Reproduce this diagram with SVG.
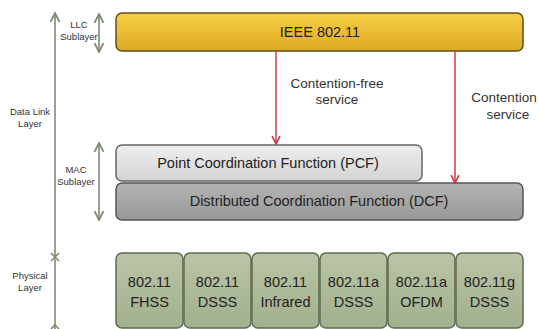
<svg xmlns="http://www.w3.org/2000/svg" width="539" height="329" viewBox="0 0 539 329">
  <style>
    text { font-family: "Liberation Sans", Arial, sans-serif; fill: #222; text-anchor: middle; }
    .side { font-size: 9.5px; fill: #333; }
    .lbl { font-size: 13.5px; fill: #333; }
    .box { font-size: 14.5px; }
    .scale { stroke: #7d8a72; stroke-width: 1.6; fill: none; }
    .conn { stroke: #c8323c; stroke-width: 1.4; fill: none; }
    .phy { fill: url(#gGreen); stroke: #5f6b52; stroke-width: 1.5; }
  </style>
  <defs>
    <linearGradient id="gYellow" x1="0" y1="0" x2="0" y2="1">
      <stop offset="0" stop-color="#f6cf45"/>
      <stop offset="1" stop-color="#ddaa22"/>
    </linearGradient>
    <linearGradient id="gLight" x1="0" y1="0" x2="0" y2="1">
      <stop offset="0" stop-color="#eeeeee"/>
      <stop offset="1" stop-color="#d4d4d4"/>
    </linearGradient>
    <linearGradient id="gDark" x1="0" y1="0" x2="0" y2="1">
      <stop offset="0" stop-color="#b4b4b4"/>
      <stop offset="1" stop-color="#989898"/>
    </linearGradient>
    <linearGradient id="gGreen" x1="0" y1="0" x2="0" y2="1">
      <stop offset="0" stop-color="#b9c5a6"/>
      <stop offset="1" stop-color="#a3b08d"/>
    </linearGradient>
    <marker id="arrRed" viewBox="0 0 10 10" refX="9" refY="5" markerWidth="7" markerHeight="7" orient="auto">
      <path d="M1,1 L9,5 L1,9" fill="none" stroke="#c8323c" stroke-width="1.6"/>
    </marker>
    <marker id="arrGray" viewBox="0 0 10 10" refX="9" refY="5" markerWidth="7" markerHeight="7" orient="auto-start-reverse">
      <path d="M1,1 L9,5 L1,9" fill="none" stroke="#7d8a72" stroke-width="1.6"/>
    </marker>
  </defs>

  <!-- layer scale on the left -->
  <g id="scale">
    <line class="scale" x1="55" y1="329" x2="55" y2="13" marker-end="url(#arrGray)"/>
    <path class="scale" d="M51,253 L59,261 M59,253 L51,261"/>
    <path class="scale" d="M51,329 L55,325 L59,329"/>
    <line class="scale" x1="99" y1="14" x2="99" y2="52" marker-start="url(#arrGray)" marker-end="url(#arrGray)"/>
    <line class="scale" x1="99" y1="143" x2="99" y2="220" marker-start="url(#arrGray)" marker-end="url(#arrGray)"/>
    <text class="side" x="30" y="115">Data Link</text>
    <text class="side" x="30" y="127">Layer</text>
    <text class="side" x="30" y="279">Physical</text>
    <text class="side" x="30" y="291">Layer</text>
    <text class="side" x="79" y="28">LLC</text>
    <text class="side" x="79" y="40">Sublayer</text>
    <text class="side" x="76" y="173">MAC</text>
    <text class="side" x="76" y="185">Sublayer</text>
  </g>

  <g id="ieee">
    <rect x="116" y="13" width="407" height="38" rx="6" fill="url(#gYellow)" stroke="#5e4d1e" stroke-width="1.5"/>
    <text class="box" x="320" y="37">IEEE 802.11</text>
  </g>

  <g id="dcf">
    <rect x="116" y="183" width="407" height="37" rx="6" fill="url(#gDark)" stroke="#555" stroke-width="1.5"/>
    <text class="box" x="319" y="206">Distributed Coordination Function (DCF)</text>
  </g>

  <g id="pcf">
    <rect x="116" y="145" width="306" height="36" rx="6" fill="url(#gLight)" stroke="#666" stroke-width="1.5"/>
    <text class="box" x="268" y="168">Point Coordination Function (PCF)</text>
  </g>

  <g id="connectors">
    <line class="conn" x1="276" y1="51" x2="276" y2="144" marker-end="url(#arrRed)"/>
    <line class="conn" x1="455" y1="51" x2="455" y2="183" marker-end="url(#arrRed)"/>
    <text class="lbl" x="337" y="88">Contention-free</text>
    <text class="lbl" x="337" y="104">service</text>
    <text class="lbl" x="504" y="102">Contention</text>
    <text class="lbl" x="508" y="119">service</text>
  </g>

  <g id="phy-fhss">
    <rect class="phy" x="116" y="253" width="67" height="75" rx="6"/>
    <text class="box" x="149.5" y="287">802.11</text>
    <text class="box" x="149.5" y="307">FHSS</text>
  </g>
  <g id="phy-dsss">
    <rect class="phy" x="184" y="253" width="67" height="75" rx="6"/>
    <text class="box" x="217.5" y="287">802.11</text>
    <text class="box" x="217.5" y="307">DSSS</text>
  </g>
  <g id="phy-ir">
    <rect class="phy" x="252" y="253" width="67" height="75" rx="6"/>
    <text class="box" x="285.5" y="287">802.11</text>
    <text class="box" x="285.5" y="307">Infrared</text>
  </g>
  <g id="phy-a-dsss">
    <rect class="phy" x="320" y="253" width="67" height="75" rx="6"/>
    <text class="box" x="353.5" y="287">802.11a</text>
    <text class="box" x="353.5" y="307">DSSS</text>
  </g>
  <g id="phy-a-ofdm">
    <rect class="phy" x="388" y="253" width="67" height="75" rx="6"/>
    <text class="box" x="421.5" y="287">802.11a</text>
    <text class="box" x="421.5" y="307">OFDM</text>
  </g>
  <g id="phy-g-dsss">
    <rect class="phy" x="456" y="253" width="67" height="75" rx="6"/>
    <text class="box" x="489.5" y="287">802.11g</text>
    <text class="box" x="489.5" y="307">DSSS</text>
  </g>
</svg>
